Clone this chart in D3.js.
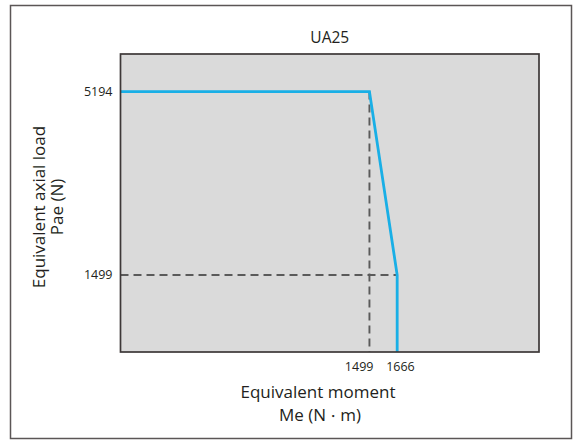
<!DOCTYPE html>
<html>
<head>
<meta charset="utf-8">
<script src="https://cdn.jsdelivr.net/npm/d3@7"></script>
<style>
  html, body { margin: 0; padding: 0; background: #fff; }
  svg { display: block; font-family: "Open Sans", "Noto Sans", sans-serif; }
</style>
</head>
<body>
<svg id="chart"></svg>
<script>
// UA25 — equivalent load vs moment envelope

const TITLE = 'UA25';
// envelope corners (moment N·m, load N)
const envMoment = [0, 1499, 1666, 1666];
const envLoad   = [5194, 5194, 1499, -50];
// dashed guide lines
const guideV = { moment: 1499, load: 5194 };
const guideH = { moment: 1666, load: 1499 };
const xTicks = [1499, 1666];
const yTicks = [5194, 1499];

const W = 580, H = 441;
const M = { left: 120.5, right: 539, top: 54, bottom: 352 };

const svg = d3.select('#chart')
    .attr('width', W)
    .attr('height', H);

// outer frame
svg.append('rect')
    .attr('x', 10.5).attr('y', 5.5)
    .attr('width', 561).attr('height', 433)
    .attr('fill', '#fff')
    .attr('stroke', '#5b5656').attr('stroke-width', 1.5);

const x = d3.scaleLinear().domain([0, 2520]).range([M.left, M.right]);
const y = d3.scaleLinear().domain([-50, 5950]).range([M.bottom, M.top]);

// plot background
svg.append('rect')
    .attr('x', M.left).attr('y', M.top)
    .attr('width', M.right - M.left).attr('height', M.bottom - M.top)
    .attr('fill', '#dadada');

// ── dashed guides ────────────────────────────────────────────────
const dash = svg.append('g')
    .attr('stroke', '#5a5a5a').attr('stroke-width', 1.9)
    .attr('stroke-dasharray', '8,5').attr('fill', 'none');

dash.append('line')
    .attr('x1', x(guideV.moment)).attr('x2', x(guideV.moment))
    .attr('y1', y(guideV.load)).attr('y2', M.bottom);
dash.append('line')
    .attr('x1', M.left).attr('x2', x(guideH.moment))
    .attr('y1', y(guideH.load)).attr('y2', y(guideH.load));

// ── envelope line ────────────────────────────────────────────────
const pts = envMoment.map((m, i) => [m, envLoad[i]]);
svg.append('path')
    .datum(pts)
    .attr('d', d3.line().x(d => x(d[0])).y(d => Math.min(y(d[1]), M.bottom)))
    .attr('fill', 'none')
    .attr('stroke', '#19afe6')
    .attr('stroke-width', 2.8);

// plot frame (drawn after line so it sits on top)
svg.append('rect')
    .attr('x', M.left).attr('y', M.top)
    .attr('width', M.right - M.left).attr('height', M.bottom - M.top)
    .attr('fill', 'none')
    .attr('stroke', '#3d3838').attr('stroke-width', 1.7);

// ── tick labels ──────────────────────────────────────────────────
const txt = '#231f20';
svg.append('g').selectAll('text')
    .data(yTicks).join('text')
    .attr('x', M.left - 8)
    .attr('y', d => y(d))
    .attr('dy', '0.35em')
    .attr('text-anchor', 'end')
    .attr('font-size', 12.5)
    .attr('fill', txt)
    .text(d => d);

// x labels nudged apart, as in the source figure
const xAnchor = ['end', 'start'];
const xNudge  = [4, -11];
svg.append('g').selectAll('text')
    .data(xTicks).join('text')
    .attr('x', (d, i) => x(d) + xNudge[i])
    .attr('y', 371)
    .attr('text-anchor', (d, i) => xAnchor[i])
    .attr('font-size', 12.5)
    .attr('fill', txt)
    .text(d => d);

// ── titles ───────────────────────────────────────────────────────
svg.append('text')
    .attr('x', (M.left + M.right) / 2).attr('y', 43)
    .attr('text-anchor', 'middle')
    .attr('font-size', 15.5).attr('fill', txt)
    .text(TITLE);

svg.append('text')
    .attr('x', 318).attr('y', 398)
    .attr('text-anchor', 'middle')
    .attr('font-size', 17).attr('fill', txt)
    .text('Equivalent moment');
// unit line: smaller middle dot keeps "N・m" tight like the original
const unit = svg.append('text')
    .attr('x', 320).attr('y', 420.5)
    .attr('text-anchor', 'middle')
    .attr('font-size', 17).attr('fill', txt);
unit.append('tspan').text('Me (N');
unit.append('tspan').attr('font-size', 14).text('・');
unit.append('tspan').text('m)');

const yl = svg.append('g').attr('transform', 'translate(0,207) rotate(-90)');
yl.append('text')
    .attr('x', 0).attr('y', 45)
    .attr('text-anchor', 'middle')
    .attr('font-size', 17).attr('fill', txt)
    .text('Equivalent axial load');
yl.append('text')
    .attr('x', 0).attr('y', 63)
    .attr('text-anchor', 'middle')
    .attr('font-size', 17).attr('fill', txt)
    .text('Pae (N)');
</script>
</body>
</html>
